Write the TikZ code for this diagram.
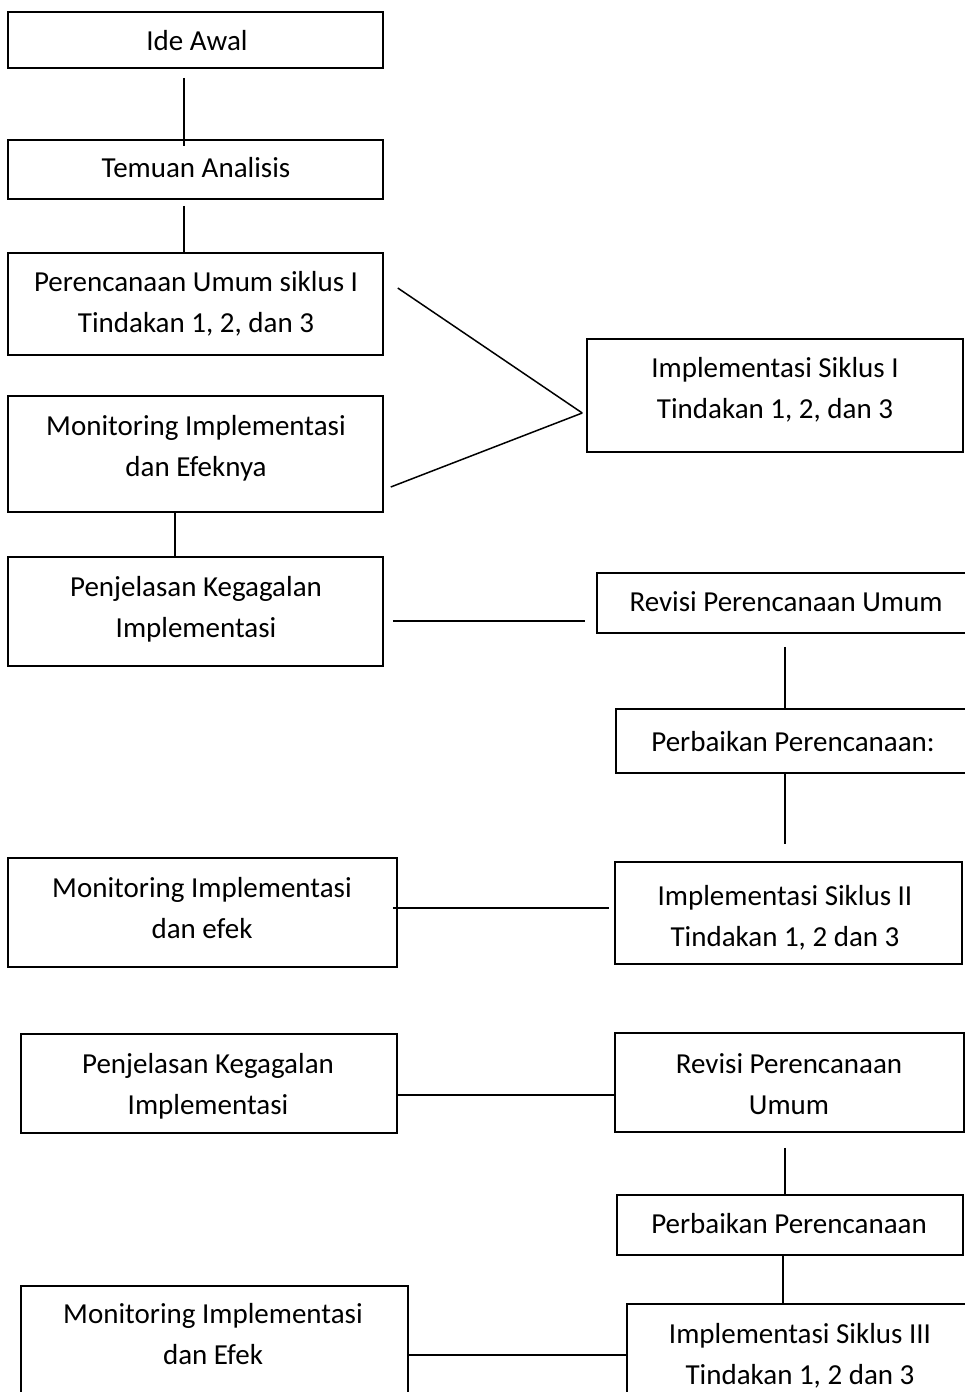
\documentclass[tikz,border=0pt]{standalone}
\usepackage{fontspec}
\setmainfont{Carlito}
\begin{document}
\begin{tikzpicture}[x=1pt,y=-1pt,
  box/.style={draw=black,line width=1.5pt,rectangle,inner sep=0pt,fill=none},
  txt/.style={anchor=base,inner sep=0pt,font=\fontsize{29}{42}\selectfont},
  conn/.style={draw=black,line width=1.5pt}]
\path[use as bounding box] (0,0) rectangle (965,1392);
\clip (0,0) rectangle (965,1392);
% boxes
\node[box,minimum width=375,minimum height=56] (ide) at (195.5,40) {};
\node[box,minimum width=375,minimum height=59] (tem) at (195.5,169.5) {};
\node[box,minimum width=375,minimum height=102] (per) at (195.5,304) {};
\node[box,minimum width=375,minimum height=116] (mon1) at (195.5,454) {};
\node[box,minimum width=376,minimum height=113] (imp1) at (775,395.5) {};
\node[box,minimum width=375,minimum height=109] (pen1) at (195.5,611.5) {};
\node[box,minimum width=388,minimum height=60] (rev1) at (791,603) {};
\node[box,minimum width=369,minimum height=64] (pb1) at (800.5,741) {};
\node[box,minimum width=347,minimum height=102] (imp2) at (788.5,913) {};
\node[box,minimum width=389,minimum height=109] (mon2) at (202.5,912.5) {};
\node[box,minimum width=376,minimum height=99] (pen2) at (209,1083.5) {};
\node[box,minimum width=349,minimum height=99] (rev2) at (789.5,1082.5) {};
\node[box,minimum width=346,minimum height=60] (pb2) at (790,1225) {};
\node[box,minimum width=363,minimum height=106] (imp3) at (808.5,1357) {};
\node[box,minimum width=387,minimum height=124] (mon3) at (214.5,1348) {};
% texts
\node[txt] (tide) at (197,50) {Ide Awal};
\node[txt] (ttem) at (196,177) {Temuan Analisis};
\node[txt] (tper1) at (196,291) {Perencanaan Umum siklus I};
\node[txt] (tper2) at (196,332.5) {Tindakan 1, 2, dan 3};
\node[txt] (tmon1a) at (196,435) {Monitoring Implementasi};
\node[txt] (tmon1b) at (196,476.5) {dan Efeknya};
\node[txt] (timp1a) at (775,377) {Implementasi Siklus I};
\node[txt] (timp1b) at (775,418.5) {Tindakan 1, 2, dan 3};
\node[txt] (tpen1a) at (196,596) {Penjelasan Kegagalan};
\node[txt] (tpen1b) at (196,637.5) {Implementasi};
\node[txt] (trev1) at (786,611) {Revisi Perencanaan Umum};
\node[txt] (tpb1) at (793,751) {Perbaikan Perencanaan:};
\node[txt] (timp2a) at (785,905) {Implementasi Siklus II};
\node[txt] (timp2b) at (785,946.5) {Tindakan 1, 2 dan 3};
\node[txt] (tmon2a) at (202,897) {Monitoring Implementasi};
\node[txt] (tmon2b) at (202,938.5) {dan efek};
\node[txt] (tpen2a) at (208,1073) {Penjelasan Kegagalan};
\node[txt] (tpen2b) at (208,1114.5) {Implementasi};
\node[txt] (trev2a) at (789,1073) {Revisi Perencanaan};
\node[txt] (trev2b) at (789,1114.5) {Umum};
\node[txt] (tpb2) at (789,1233) {Perbaikan Perencanaan};
\node[txt] (tmon3a) at (213,1323) {Monitoring Implementasi};
\node[txt] (tmon3b) at (213,1364.5) {dan Efek};
\node[txt] (timp3a) at (800,1343) {Implementasi Siklus III};
\node[txt] (timp3b) at (800,1384.5) {Tindakan 1, 2 dan 3};
% connectors
\draw[conn] ([xshift=-11.5pt,yshift=-9pt]ide.south) -- ([xshift=-11.5pt,yshift=-7pt]tem.north);
\draw[conn] ([xshift=-11.5pt,yshift=-6pt]tem.south) -- ([xshift=-11.5pt]per.north);
\draw[conn] ([xshift=14pt,yshift=16pt]per.east) -- ([xshift=-4pt,yshift=-17.5pt]imp1.west);
\draw[conn] ([xshift=7pt,yshift=-33pt]mon1.east) -- ([xshift=-4pt,yshift=-17.5pt]imp1.west);
\draw[conn] ([xshift=-20.5pt]mon1.south) -- ([xshift=-20.5pt]pen1.north);
\draw[conn] ([xshift=9pt,yshift=-9.5pt]pen1.east) -- ([xshift=-11pt,yshift=-18pt]rev1.west);
\draw[conn] ([xshift=-6pt,yshift=-13pt]rev1.south) -- ([xshift=-15.5pt]pb1.north);
\draw[conn] ([xshift=-15.5pt]pb1.south) -- ([xshift=-3.5pt,yshift=17pt]imp2.north);
\draw[conn] ([xshift=-5pt,yshift=4.5pt]mon2.east) -- ([xshift=-5pt,yshift=5pt]imp2.west);
\draw[conn] ([yshift=-11.5pt]pen2.east) -- ([yshift=-12.5pt]rev2.west);
\draw[conn] ([xshift=-4.5pt,yshift=-15pt]rev2.south) -- ([xshift=-5pt]pb2.north);
\draw[conn] ([xshift=-7pt]pb2.south) -- ([xshift=-25.5pt]imp3.north);
\draw[conn] ([yshift=-7pt]mon3.east) -- ([yshift=2pt]imp3.west);
\end{tikzpicture}
\end{document}
